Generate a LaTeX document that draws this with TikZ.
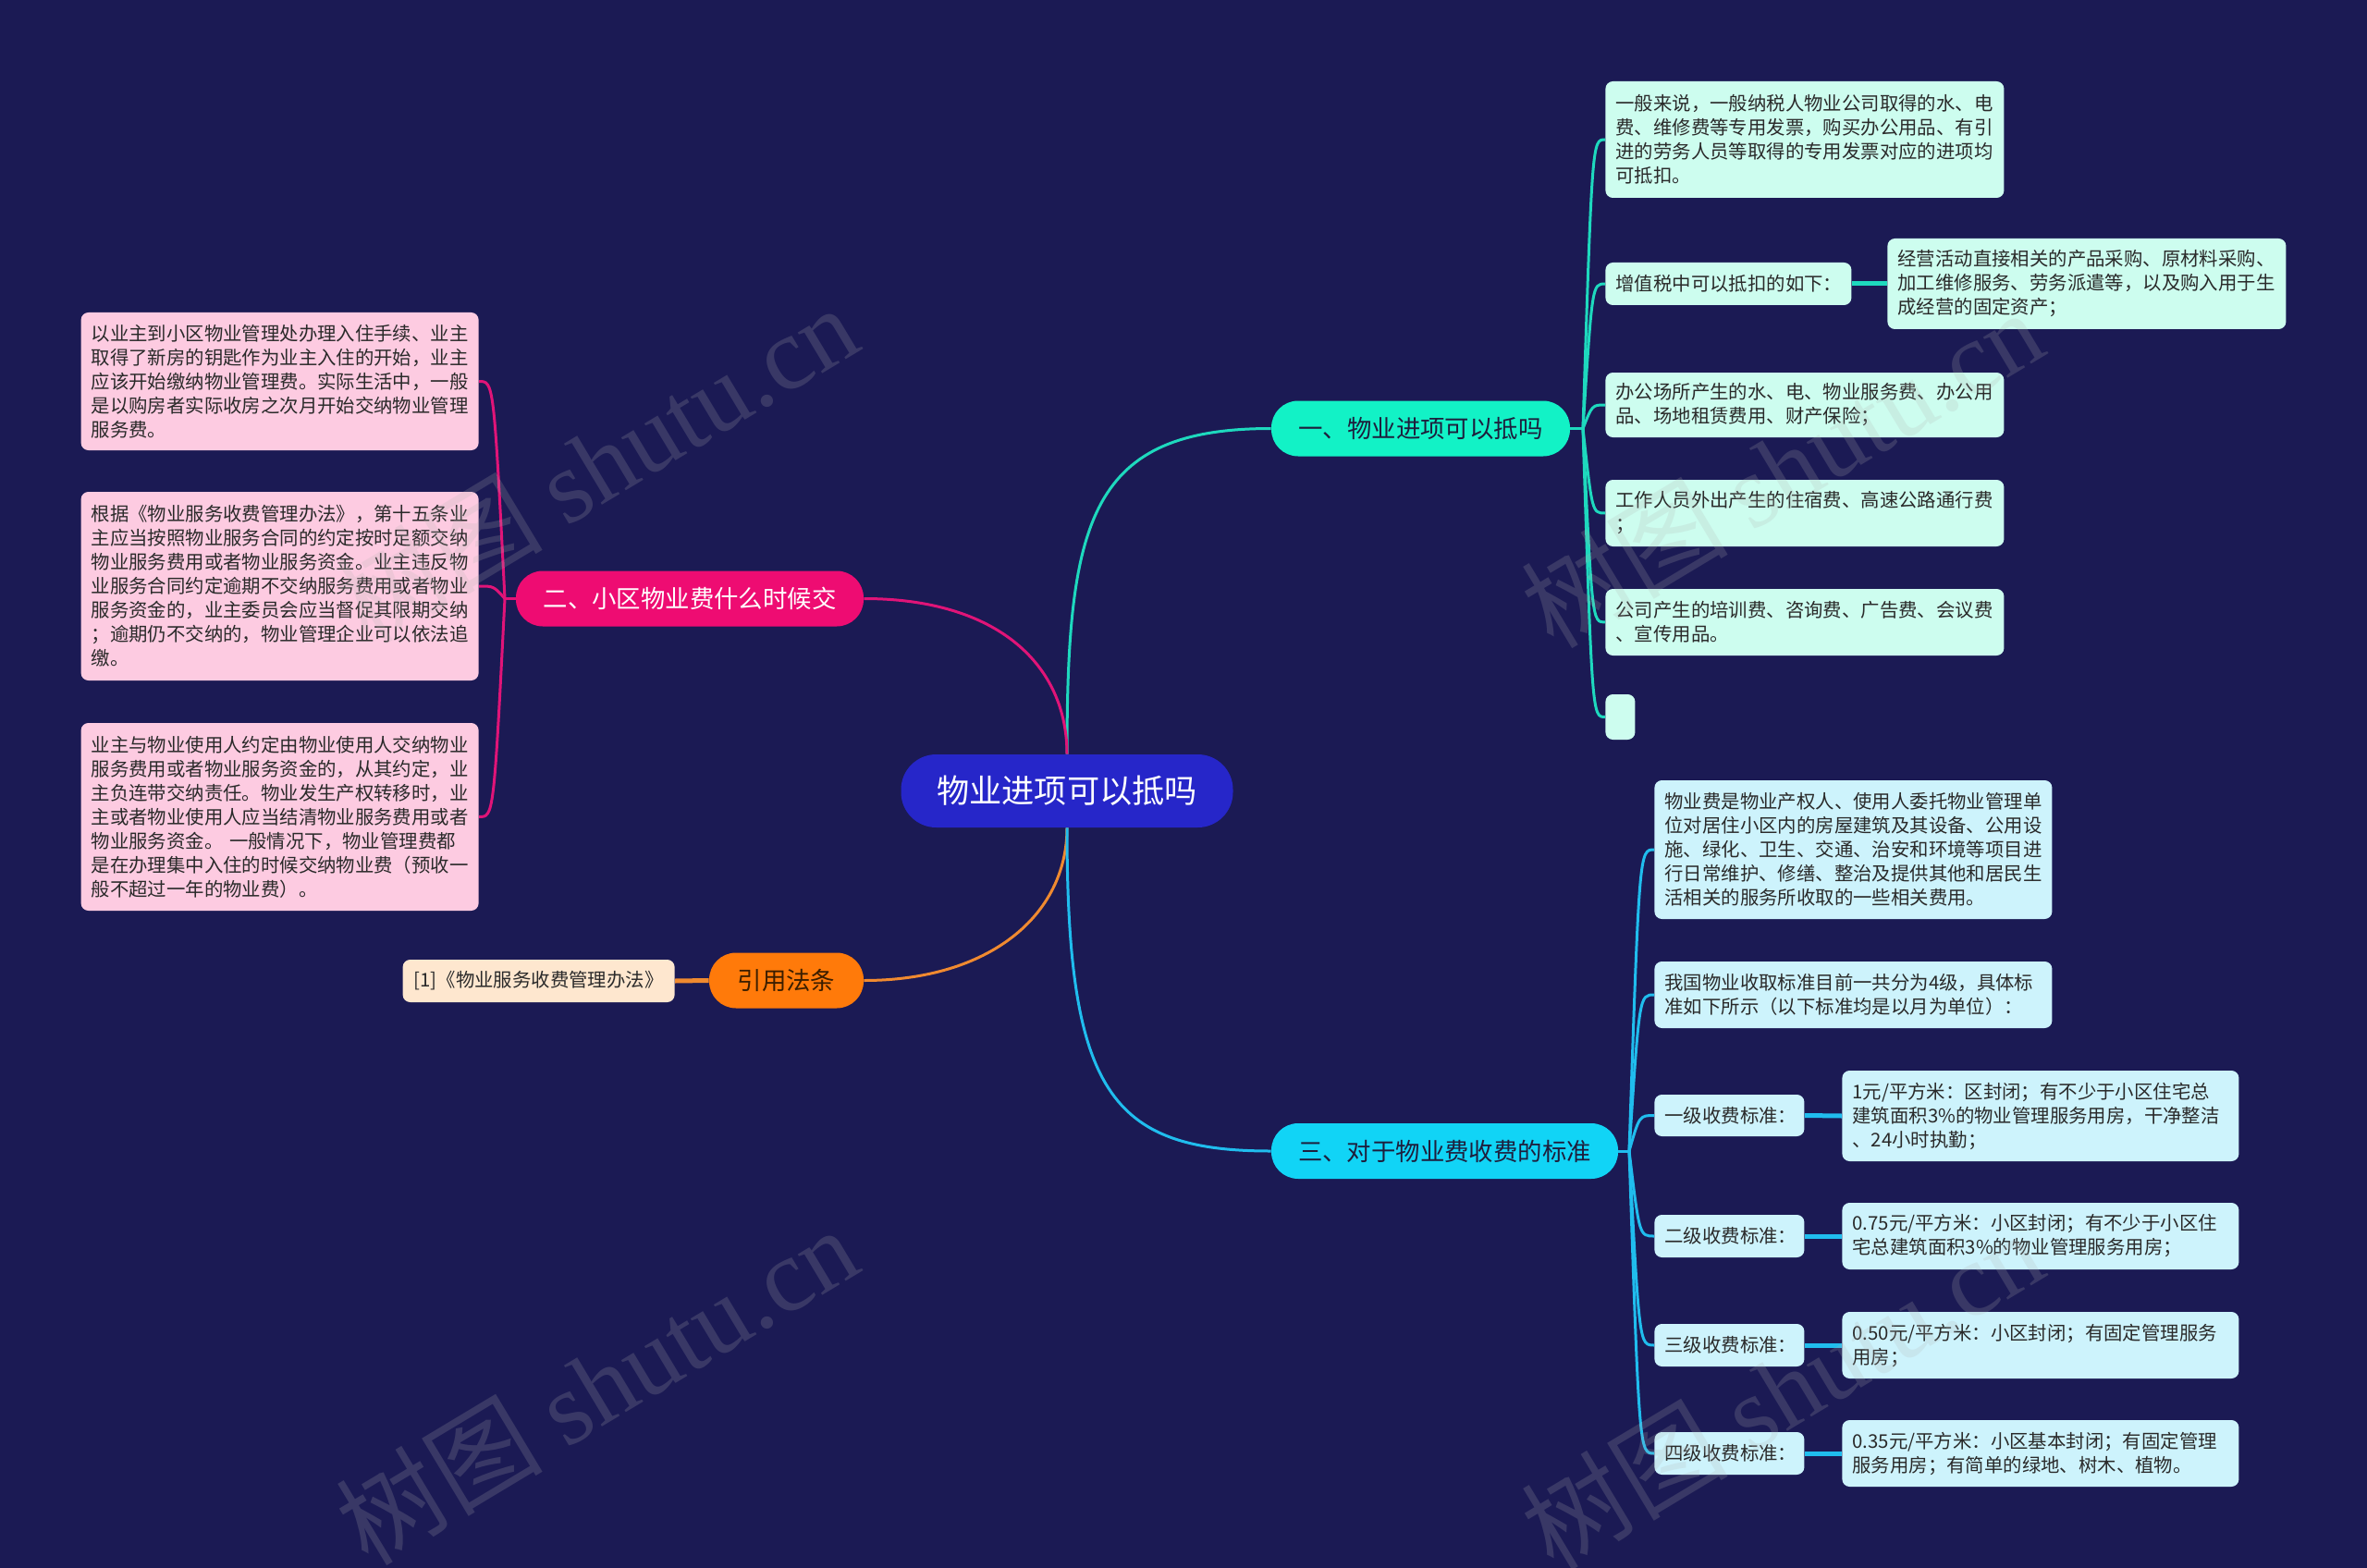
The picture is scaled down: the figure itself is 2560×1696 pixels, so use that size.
\documentclass[tikz,border=0pt]{standalone}
\usepackage{fontspec}
\setmainfont{Noto Sans CJK SC}
\newfontfamily\wmserif{Liberation Serif}
\definecolor{bgc}{HTML}{1B1A54}
\definecolor{rootc}{HTML}{2626C9}
\definecolor{tealc}{HTML}{12F2C6}
\definecolor{pinkc}{HTML}{EE0C72}
\definecolor{orangec}{HTML}{FF7A0A}
\definecolor{cyanc}{HTML}{11D4F6}
\definecolor{mintleaf}{HTML}{CDFDEF}
\definecolor{pinkleaf}{HTML}{FDCBE1}
\definecolor{cyanleaf}{HTML}{CDF3FC}
\definecolor{creamleaf}{HTML}{FEE7CF}
\definecolor{tealedgec}{HTML}{1ED9BE}
\definecolor{pinkedgec}{HTML}{E01478}
\definecolor{orangeedgec}{HTML}{F08A30}
\definecolor{cyanedgec}{HTML}{20BDEE}
\definecolor{leaftext}{HTML}{2A2A2A}
\definecolor{darktext}{HTML}{1E1E3C}
\definecolor{browntext}{HTML}{3B1E00}
\begin{document}
\begin{tikzpicture}[x=0.5pt,y=-0.5pt,
  leaf/.style={rounded corners=4pt, inner xsep=5.5pt, inner ysep=3pt, align=left,
    font=\fontsize{10.2pt}{13pt}\selectfont, text=leaftext},
  mleaf/.style={leaf, fill=mintleaf},
  pleaf/.style={leaf, fill=pinkleaf},
  cleaf/.style={leaf, fill=cyanleaf},
  crleaf/.style={leaf, fill=creamleaf},
  rootnode/.style={fill=rootc, text=white, rounded corners=19pt, minimum width=179.5pt,
    minimum height=39.5pt, font=\fontsize{17.6pt}{20pt}\selectfont},
  branch/.style={rounded corners=14.5pt, minimum height=30pt, inner xsep=8pt,
    font=\fontsize{13.2pt}{16pt}\selectfont},
  tedge/.style={draw=tealedgec, line width=1.5pt},
  pedge/.style={draw=pinkedgec, line width=1.5pt},
  oedge/.style={draw=orangeedgec, line width=1.5pt},
  cedge/.style={draw=cyanedgec, line width=1.5pt},
  wm/.style={text=gray!60, opacity=0.2, font=\fontsize{56pt}{60pt}\selectfont, rotate=31}
]
\useasboundingbox (0,0) rectangle (2560,1696);
\fill[bgc] (0,0) rectangle (2560,1696);

% root and branches
\node[rootnode] (root) at (1154,855.5) {物业进项可以抵吗};
\node[branch, fill=tealc, text=darktext, minimum width=161.5pt] (b1) at (1536.5,463.5) {一、物业进项可以抵吗};
\node[branch, fill=pinkc, text=white, minimum width=188pt] (b2) at (746,647.5) {二、小区物业费什么时候交};
\node[branch, fill=orangec, text=browntext, minimum width=83.5pt] (b4) at (850.5,1060.5) {引用法条};
\node[branch, fill=cyanc, text=darktext, minimum width=187.5pt] (b3) at (1562.5,1245) {三、对于物业费收费的标准};

% branch 1 leaves
\node[mleaf, text width=204.5pt, minimum height=63pt, anchor=west] (l1) at (1736,151) {一般来说，一般纳税人物业公司取得的水、电\\费、维修费等专用发票，购买办公用品、有引\\进的劳务人员等取得的专用发票对应的进项均\\可抵扣。};
\node[mleaf, text width=122pt, minimum height=23pt, anchor=west] (l2) at (1736,307) {增值税中可以抵扣的如下：};
\node[mleaf, text width=204.5pt, minimum height=49pt, anchor=west] (l2a) at (2041,307) {经营活动直接相关的产品采购、原材料采购、\\加工维修服务、劳务派遣等，以及购入用于生\\成经营的固定资产；};
\node[mleaf, text width=204.5pt, minimum height=35pt, anchor=west] (l3) at (1736,438) {办公场所产生的水、电、物业服务费、办公用\\品、场地租赁费用、财产保险；};
\node[mleaf, text width=204.5pt, minimum height=36pt, anchor=west] (l4) at (1736,555) {工作人员外出产生的住宿费、高速公路通行费\\；};
\node[mleaf, text width=204.5pt, minimum height=36pt, anchor=west] (l5) at (1736,673) {公司产生的培训费、咨询费、广告费、会议费\\、宣传用品。};
\node[mleaf, inner sep=0pt, minimum width=16pt, minimum height=24.5pt, anchor=west] (l6) at (1736,775.5) {};

% branch 2 leaves
\node[pleaf, text width=204pt, minimum height=74.5pt, anchor=east] (p1) at (518,412.5) {以业主到小区物业管理处办理入住手续、业主\\取得了新房的钥匙作为业主入住的开始，业主\\应该开始缴纳物业管理费。实际生活中，一般\\是以购房者实际收房之次月开始交纳物业管理\\服务费。};
\node[pleaf, text width=204pt, minimum height=102pt, anchor=east] (p2) at (518,634) {根据《物业服务收费管理办法》，第十五条业\\主应当按照物业服务合同的约定按时足额交纳\\物业服务费用或者物业服务资金。业主违反物\\业服务合同约定逾期不交纳服务费用或者物业\\服务资金的，业主委员会应当督促其限期交纳\\；逾期仍不交纳的，物业管理企业可以依法追\\缴。};
\node[pleaf, text width=204pt, minimum height=101.5pt, anchor=east] (p3) at (518,883.5) {业主与物业使用人约定由物业使用人交纳物业\\服务费用或者物业服务资金的，从其约定，业\\主负连带交纳责任。物业发生产权转移时，业\\主或者物业使用人应当结清物业服务费用或者\\物业服务资金。 一般情况下，物业管理费都\\是在办理集中入住的时候交纳物业费（预收一\\般不超过一年的物业费）。};

% citation leaf
\node[crleaf, minimum width=147pt, minimum height=23pt, anchor=east] (c1) at (730,1061) {[1]《物业服务收费管理办法》};

% branch 3 leaves
\node[cleaf, text width=204pt, minimum height=75pt, anchor=west] (q1) at (1789,919) {物业费是物业产权人、使用人委托物业管理单\\位对居住小区内的房屋建筑及其设备、公用设\\施、绿化、卫生、交通、治安和环境等项目进\\行日常维护、修缮、整治及提供其他和居民生\\活相关的服务所收取的一些相关费用。};
\node[cleaf, text width=204pt, minimum height=36pt, anchor=west] (q2) at (1789,1076) {我国物业收取标准目前一共分为4级，具体标\\准如下所示（以下标准均是以月为单位）：};
\node[cleaf, text width=70pt, minimum height=22.5pt, anchor=west] (g1) at (1789,1206.5) {一级收费标准：};
\node[cleaf, text width=203.5pt, minimum height=49pt, anchor=west] (d1) at (1992,1207) {1元/平方米：区封闭；有不少于小区住宅总\\建筑面积3\%的物业管理服务用房，干净整洁\\、24小时执勤；};
\node[cleaf, text width=70pt, minimum height=23pt, anchor=west] (g2) at (1789,1337) {二级收费标准：};
\node[cleaf, text width=203.5pt, minimum height=36pt, anchor=west] (d2) at (1992,1337) {0.75元/平方米：小区封闭；有不少于小区住\\宅总建筑面积3\%的物业管理服务用房；};
\node[cleaf, text width=70pt, minimum height=23pt, anchor=west] (g3) at (1789,1455) {三级收费标准：};
\node[cleaf, text width=203.5pt, minimum height=36pt, anchor=west] (d3) at (1992,1455) {0.50元/平方米：小区封闭；有固定管理服务\\用房；};
\node[cleaf, text width=70pt, minimum height=23pt, anchor=west] (g4) at (1789,1572) {四级收费标准：};
\node[cleaf, text width=203.5pt, minimum height=36pt, anchor=west] (d4) at (1992,1572) {0.35元/平方米：小区基本封闭；有固定管理\\服务用房；有简单的绿地、树木、植物。};

% root edges
\draw[tedge] (root.north) .. controls (1154,560) and (1180,463.5) .. (b1.west);
\draw[pedge] (root.north) .. controls (1154,720) and (1080,647.5) .. (b2.east);
\draw[oedge] (root.south) .. controls (1154,990) and (1070,1060.5) .. (b4.east);
\draw[cedge] (root.south) .. controls (1154,1180) and (1200,1245) .. (b3.west);

% branch 1 edges
\coordinate (j1) at (1712,463.5);
\draw[tedge] (b1.east) -- (j1);
\foreach \n/\yy in {l1/151, l2/307, l3/438, l4/555, l5/673, l6/775.5}
  \draw[tedge] (j1) .. controls (1722,\yy) and (1722,\yy) .. (\n.west);
\draw[tedge, line width=2.5pt] (l2.east) -- (l2a.west);

% branch 2 edges
\coordinate (j2) at (546,647.5);
\draw[pedge] (b2.west) -- (j2);
\foreach \n/\yy in {p1/412.5, p2/634, p3/883.5}
  \draw[pedge] (j2) .. controls (534,\yy) and (534,\yy) .. (\n.east);

% citation edge
\draw[oedge, line width=2.5pt] (b4.west) -- (c1.east);

% branch 3 edges
\coordinate (j3) at (1762,1245);
\draw[cedge] (b3.east) -- (j3);
\foreach \n/\yy in {q1/919, q2/1076, g1/1206.5, g2/1337, g3/1455, g4/1572}
  \draw[cedge] (j3) .. controls (1773,\yy) and (1773,\yy) .. (\n.west);
\draw[cedge, line width=2.5pt] (g1.east) -- (d1.west);
\draw[cedge, line width=2.5pt] (g2.east) -- (d2.west);
\draw[cedge, line width=2.5pt] (g3.east) -- (d3.west);
\draw[cedge, line width=2.5pt] (g4.east) -- (d4.west);

% watermarks
\node[wm] (wm1) at (645,501) {树图 {\wmserif shutu.cn}};
\node[wm] (wm2) at (645,1498) {树图 {\wmserif shutu.cn}};
\node[wm] (wm3) at (1927,506) {树图 {\wmserif shutu.cn}};
\node[wm] (wm4) at (1927,1503) {树图 {\wmserif shutu.cn}};
\end{tikzpicture}
\end{document}
